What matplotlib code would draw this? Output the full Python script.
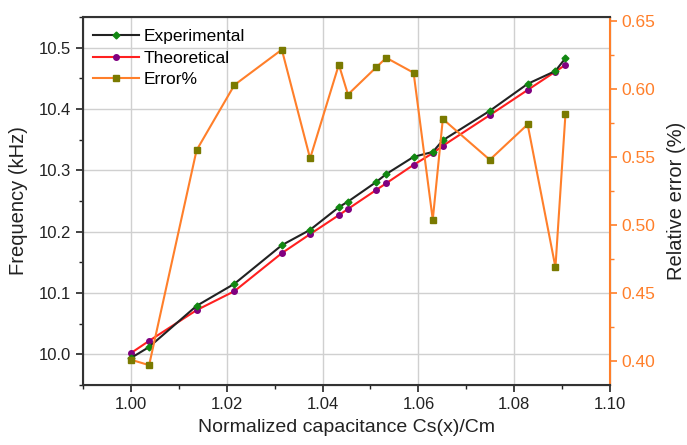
import matplotlib
matplotlib.use("Agg")
import matplotlib.pyplot as plt
from matplotlib.ticker import MultipleLocator

plt.rcParams['font.family'] = ['Liberation Sans', 'DejaVu Sans']

cap_ratio = [1.000, 1.0038, 1.0137, 1.0216, 1.0315, 1.0374, 1.0434, 1.0453, 1.0512,
             1.0533, 1.0590, 1.0630, 1.0651, 1.0749, 1.0828, 1.0886, 1.0907]
experimental = [9.994, 10.012, 10.079, 10.115, 10.178, 10.203, 10.240, 10.249, 10.281,
                10.294, 10.322, 10.330, 10.349, 10.397, 10.441, 10.462, 10.483]
theoretical = [10.002, 10.022, 10.072, 10.103, 10.165, 10.196, 10.227, 10.237, 10.268,
               10.279, 10.309, 10.328, 10.340, 10.390, 10.431, 10.461, 10.472]
error_pct = [0.401, 0.397, 0.555, 0.603, 0.629, 0.549, 0.618, 0.596, 0.616,
             0.623, 0.612, 0.504, 0.578, 0.548, 0.574, 0.469, 0.582]

orange = '#ff7f2a'

fig = plt.figure(figsize=(6.87, 4.45), dpi=100)
ax = fig.add_axes([0.1208, 0.1348, 0.7672, 0.827])
ax2 = ax.twinx()

l1, = ax.plot(cap_ratio, experimental, color='#222222', lw=1.5, marker='D', ms=3.5,
              mfc='#118811', mec='#118811', label='Experimental', zorder=3)
l2, = ax.plot(cap_ratio, theoretical, color='#ff2020', lw=1.5, marker='o', ms=4,
              mfc='#800080', mec='#800080', label='Theoretical', zorder=2)
l3, = ax2.plot(cap_ratio, error_pct, color=orange, lw=1.5, marker='s', ms=4,
               mfc='#7a7a00', mec='#7a7a00', label='Error%')

ax.set_xlim(0.99, 1.10)
ax.set_ylim(9.95, 10.55)
ax2.set_ylim(0.3824, 0.653)

ax.xaxis.set_major_locator(MultipleLocator(0.02))
ax.xaxis.set_minor_locator(MultipleLocator(0.01))
ax.yaxis.set_major_locator(MultipleLocator(0.1))
ax.yaxis.set_minor_locator(MultipleLocator(0.05))
ax2.yaxis.set_major_locator(MultipleLocator(0.05))
ax2.yaxis.set_minor_locator(MultipleLocator(0.025))
ax.xaxis.set_major_formatter(matplotlib.ticker.FormatStrFormatter('%.2f'))
ax.yaxis.set_major_formatter(matplotlib.ticker.FormatStrFormatter('%.1f'))
ax2.yaxis.set_major_formatter(matplotlib.ticker.FormatStrFormatter('%.2f'))

ax.grid(True, which='major', color='#d0d0d0', lw=1.0)
ax.set_axisbelow(True)

ax.tick_params(axis='both', which='major', direction='out', length=5, width=1.2,
               labelsize=12, colors='#222222')
ax.tick_params(axis='both', which='minor', direction='out', length=3, width=1.0, colors='#222222')
ax2.tick_params(axis='y', which='major', direction='out', length=5, width=1.2,
                labelsize=12.5, colors=orange)
ax2.tick_params(axis='y', which='minor', direction='out', length=3, width=1.0, colors=orange)

for s in ['left', 'bottom', 'top']:
    ax2.spines[s].set_color('#333333')
    ax2.spines[s].set_linewidth(1.5)
ax2.spines['right'].set_color(orange)
ax2.spines['right'].set_linewidth(1.5)

ax.set_xlabel('Normalized capacitance Cs(x)/Cm', fontsize=14, color='#222222', labelpad=5)
ax.set_ylabel('Frequency (kHz)', fontsize=14.5, color='#222222', labelpad=8)
ax2.set_ylabel('Relative error (%)', fontsize=14.5, color='#222222', labelpad=8)

leg = ax.legend(handles=[l1, l2, l3], loc='upper left', frameon=False, fontsize=12.5,
                handlelength=2.6, handletextpad=0.3, labelspacing=0.35,
                borderaxespad=0.2, bbox_to_anchor=(0.0, 0.995))

fig.savefig('out.png', dpi=100)
